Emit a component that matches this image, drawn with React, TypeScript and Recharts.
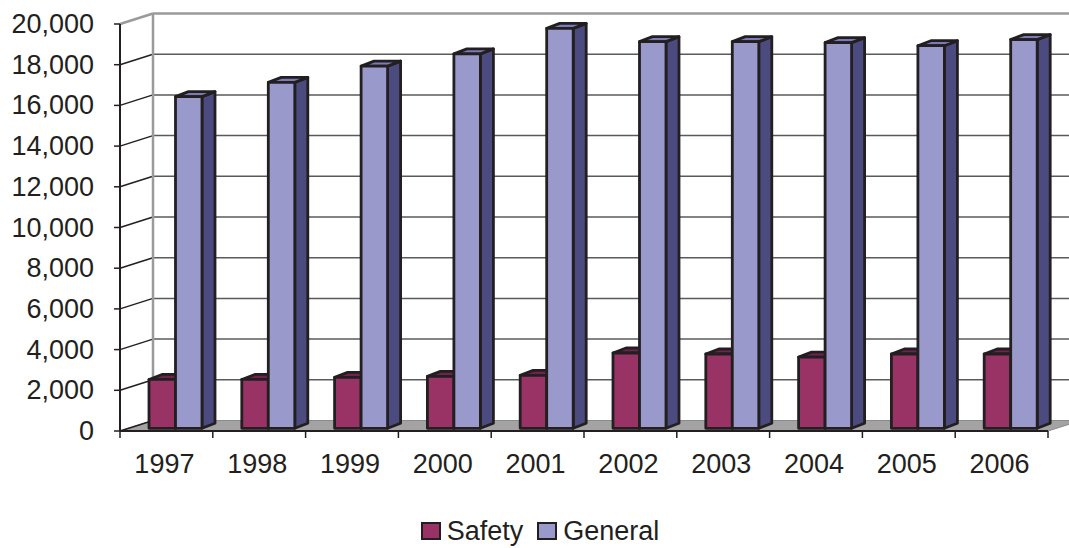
import { Bar, BarChart, CartesianGrid, Legend, XAxis, YAxis } from "recharts";

const years = ["1997", "1998", "1999", "2000", "2001", "2002", "2003", "2004", "2005", "2006"];
const safety = [2400, 2400, 2500, 2550, 2600, 3700, 3650, 3500, 3650, 3650];
const general = [16300, 17000, 17800, 18400, 19650, 19000, 19000, 18950, 18800, 19100];
const yTicks = [0, 2000, 4000, 6000, 8000, 10000, 12000, 14000, 16000, 18000, 20000];
const seriesOrder = ["Safety", "General"];

const data = years.map((year, i) => ({ year, Safety: safety[i], General: general[i] }));

const W = 1069;
const H = 548;
const LEFT = 120;
const RIGHT = 21;
const TOP = 24;
const BOTTOM = 117;
const PLOT_W = W - LEFT - RIGHT;
const PLOT_H = H - TOP - BOTTOM;
const BAND = PLOT_W / years.length;

// wall depth (oblique projection)
const DX = 33;
const DY = -10.5;
// bar placement inside the depth + bar depth
const SX = 9;
const SY = -2.7;
const BX = 13;
const BY = -5;

const FONT = "'Liberation Sans', Arial, sans-serif";
const INK = "#231f20";

const faces = {
  Safety: { front: "#993366", top: "#702250", side: "#5c1a40" },
  General: { front: "#9999cc", top: "#7b7bb9", side: "#4b4b7f" },
};

function box(kind: "Safety" | "General") {
  const c = faces[kind];
  return (props: any) => {
    const { x, y, width, height } = props;
    if (height == null || width == null) return <g />;
    const x0 = x + SX;
    const y0 = y + SY;
    const x1 = x0 + width;
    const y1 = y0 + height;
    return (
      <g stroke={INK} strokeWidth={2.8} strokeLinejoin="round">
        <polygon points={`${x1},${y0} ${x1 + BX},${y0 + BY} ${x1 + BX},${y1 + BY} ${x1},${y1}`} fill={c.side} />
        <polygon points={`${x0},${y0} ${x1},${y0} ${x1 + BX},${y0 + BY} ${x0 + BX},${y0 + BY}`} fill={c.top} />
        <rect x={x0} y={y0} width={width} height={height} fill={c.front} />
      </g>
    );
  };
}

function gridLine(props: any) {
  const { x1, y1, index } = props;
  const y = y1;
  const isTop = Math.abs(y - TOP) < 1;
  const isBottom = Math.abs(y - (TOP + PLOT_H)) < 1;
  if (isBottom) {
    return (
      <g key={`g-${index}`}>
        <polygon
          points={`${x1},${y} ${x1 + PLOT_W},${y} ${x1 + PLOT_W + DX},${y + DY} ${x1 + DX},${y + DY}`}
          fill="#a3a3a3"
          stroke="#8a8a8a"
          strokeWidth={1}
        />
        <line x1={x1} y1={y} x2={x1 + DX} y2={y + DY} stroke={INK} strokeWidth={1.5} />
      </g>
    );
  }
  if (isTop) {
    return (
      <g key={`g-${index}`}>
        <line x1={x1 + DX} y1={y + DY} x2={x1 + DX} y2={y + DY + PLOT_H} stroke="#9a9a9a" strokeWidth={2.5} />
        <line x1={x1} y1={y} x2={x1 + DX} y2={y + DY} stroke="#9a9a9a" strokeWidth={2.5} />
        <line x1={x1 + DX} y1={y + DY} x2={W + 20} y2={y + DY} stroke="#9a9a9a" strokeWidth={2.5} />
      </g>
    );
  }
  return (
    <g key={`g-${index}`}>
      <line x1={x1} y1={y} x2={x1 + DX} y2={y + DY} stroke={INK} strokeWidth={1.5} />
      <line x1={x1 + DX} y1={y + DY} x2={W + 20} y2={y + DY} stroke="#5a5a5a" strokeWidth={1.5} />
    </g>
  );
}

function YTick(props: any) {
  const { x, y, payload } = props;
  return (
    <text x={x - 18} y={y + 9} textAnchor="end" fill={INK} fontSize={27} fontFamily={FONT}>
      {Number(payload.value).toLocaleString("en-US")}
    </text>
  );
}

function XTick(props: any) {
  const { x, y, payload, index } = props;
  const top = TOP + PLOT_H;
  return (
    <g>
      <line x1={x - BAND / 2} y1={top} x2={x - BAND / 2} y2={top + 7} stroke={INK} strokeWidth={1.5} />
      {index === years.length - 1 && (
        <line x1={x + BAND / 2} y1={top} x2={x + BAND / 2} y2={top + 7} stroke={INK} strokeWidth={1.5} />
      )}
      <text x={x - 2} y={y + 34} textAnchor="middle" fill={INK} fontSize={27} fontFamily={FONT}>
        {payload.value}
      </text>
    </g>
  );
}

function LegendContent(props: any) {
  const items = [...(props.payload || [])].sort(
    (a: any, b: any) => seriesOrder.indexOf(a.value) - seriesOrder.indexOf(b.value)
  );
  return (
    <div
      style={{
        display: "flex",
        justifyContent: "center",
        alignItems: "center",
        height: 30,
        fontFamily: FONT,
        fontSize: 27,
        lineHeight: "30px",
        color: INK,
      }}
    >
      {items.map((it: any, i: number) => (
        <div key={it.value} style={{ display: "flex", alignItems: "center", marginLeft: i ? 14 : 0 }}>
          <span
            style={{
              display: "inline-block",
              width: 16,
              height: 14,
              background: it.color,
              border: `2px solid ${INK}`,
              marginRight: 6,
            }}
          />
          <span>{it.value}</span>
        </div>
      ))}
    </div>
  );
}

export default function App() {
  return (
    <div style={{ position: "absolute", left: 0, top: 0, width: W, height: H, background: "#fff" }}>
      <BarChart
        width={W}
        height={H}
        data={data}
        margin={{ top: TOP, right: RIGHT, bottom: 0, left: 0 }}
        barGap={0}
        barSize={26.5}
      >
        <CartesianGrid vertical={false} horizontal={gridLine} />
        <XAxis
          dataKey="year"
          height={BOTTOM}
          tickLine={false}
          axisLine={{ stroke: INK, strokeWidth: 2 }}
          tick={<XTick />}
          interval={0}
        />
        <YAxis
          width={LEFT}
          domain={[0, 20000]}
          ticks={yTicks}
          interval={0}
          tickSize={6}
          axisLine={{ stroke: INK, strokeWidth: 2 }}
          tickLine={{ stroke: INK, strokeWidth: 1.5 }}
          tick={<YTick />}
        />
        <Legend
          layout="horizontal"
          verticalAlign="middle"
          align="center"
          wrapperStyle={{ top: 516, left: 0, width: 1080 }}
          content={<LegendContent />}
        />
        <Bar dataKey="Safety" fill={faces.Safety.front} shape={box("Safety")} isAnimationActive={false} />
        <Bar dataKey="General" fill={faces.General.front} shape={box("General")} isAnimationActive={false} />
      </BarChart>
    </div>
  );
}
